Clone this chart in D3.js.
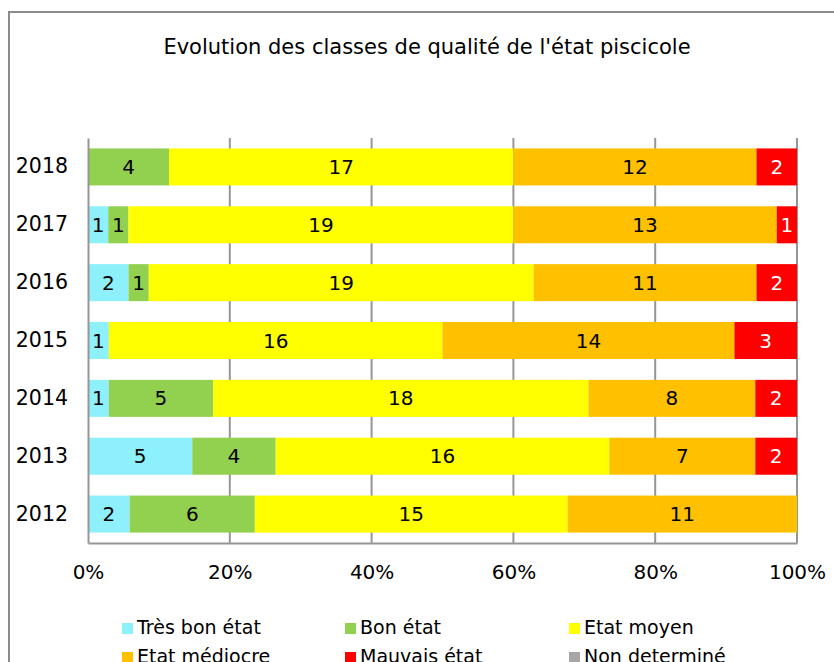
<!DOCTYPE html>
<html>
<head>
<meta charset="utf-8">
<script src="https://cdn.jsdelivr.net/npm/d3@7"></script>
<style>
  body { margin: 0; background: #fff; }
  text { font-family: "DejaVu Sans", Verdana, sans-serif; }
</style>
</head>
<body>
<script>
// années, de haut en bas
let years = ["2018", "2017", "2016", "2015", "2014", "2013", "2012"];
let classes = ["Très bon état", "Bon état", "Etat moyen", "Etat médiocre", "Mauvais état", "Non determiné"];
let colors = ["#8EF0FA", "#92D050", "#FFFF00", "#FFC000", "#FF0000", "#A6A6A6"];

let tresBon  = [0, 1, 2, 1, 1, 5, 2];
let bon      = [4, 1, 1, 0, 5, 4, 6];
let moyen    = [17, 19, 19, 16, 18, 16, 15];
let mediocre = [12, 13, 11, 14, 8, 7, 11];
let mauvais  = [2, 1, 2, 3, 2, 2, 0];
let nonDet   = [0, 0, 0, 0, 0, 0, 0];

let xTicks = [0, 0.2, 0.4, 0.6, 0.8, 1];

let series = [tresBon, bon, moyen, mediocre, mauvais, nonDet];

let rows = years.map(function (y, i) {
    let r = { year: y };
    classes.forEach(function (c, k) { r[c] = series[k][i]; });
    return r;
});

let stacked = d3.stack()
    .keys(classes)
    .offset(d3.stackOffsetExpand)(rows);

let width = 834, height = 662;
let plotLeft = 88, plotRight = 797, plotTop = 138, plotBottom = 543;

let xScale = d3.scaleLinear()
    .domain([0, 1])
    .range([plotLeft, plotRight]);

let yScale = d3.scaleBand()
    .domain(years)
    .range([plotTop, plotBottom])
    .paddingInner(0.36)
    .paddingOuter(0.18);

let svg = d3.select("body")
    .append("svg")
    .attr("width", width).attr("height", height);

// cadre
svg.append("rect")
    .attr("x", 9).attr("y", 12)
    .attr("width", 900).attr("height", 700)
    .attr("fill", "white")
    .attr("stroke", "#8c8c8c").attr("stroke-width", 2);

svg.append("text")
    .attr("x", 427).attr("y", 54)
    .attr("text-anchor", "middle")
    .attr("font-size", 21)
    .text("Evolution des classes de qualité de l'état piscicole");

// grille verticale
svg.append("g")
    .selectAll("line")
    .data(xTicks.slice(1))
    .enter()
    .append("line")
    .attr("x1", function (d) { return xScale(d); })
    .attr("x2", function (d) { return xScale(d); })
    .attr("y1", plotTop).attr("y2", plotBottom)
    .attr("stroke", "#969696").attr("stroke-width", 2);

let groups = svg.append("g")
    .selectAll("g")
    .data(stacked)
    .enter()
    .append("g")
    .attr("fill", function (d, i) { return colors[i]; });

groups.selectAll("rect")
    .data(function (d) { return d; })
    .enter()
    .append("rect")
    .attr("x", function (d) { return xScale(d[0]); })
    .attr("y", function (d) { return yScale(d.data.year); })
    .attr("width", function (d) { return xScale(d[1]) - xScale(d[0]); })
    .attr("height", yScale.bandwidth());

// étiquettes des valeurs
groups.each(function (s, i) {
    d3.select(this).selectAll("text")
        .data(s.filter(function (d) { return d.data[s.key] > 0; }))
        .enter()
        .append("text")
        .attr("x", function (d) { return (xScale(d[0]) + xScale(d[1])) / 2; })
        .attr("y", function (d) { return yScale(d.data.year) + yScale.bandwidth() / 2 + 7; })
        .attr("text-anchor", "middle")
        .attr("font-size", 20)
        .attr("fill", i == 4 ? "white" : "black")
        .text(function (d) { return d.data[s.key]; });
});

// axes
let xAxis = svg.append("g")
    .attr("transform", "translate(0," + plotBottom + ")")
    .call(d3.axisBottom(xScale).tickValues(xTicks).tickFormat(d3.format(".0%")).tickSize(0).tickPadding(22));
xAxis.select(".domain").attr("stroke", "#969696").attr("stroke-width", 2);
xAxis.selectAll("text").attr("font-size", 20).attr("fill", "black")
    .attr("font-family", "DejaVu Sans, Verdana, sans-serif");

let yAxis = svg.append("g")
    .attr("transform", "translate(" + plotLeft + ",0)")
    .call(d3.axisLeft(yScale).tickSize(0).tickPadding(20));
yAxis.select(".domain").attr("stroke", "#969696").attr("stroke-width", 2);
yAxis.selectAll("text").attr("font-size", 20.5).attr("fill", "black")
    .attr("font-family", "DejaVu Sans, Verdana, sans-serif");

// légende
let legX = [122, 345, 569];
let legend = svg.append("g")
    .selectAll("g")
    .data(classes)
    .enter()
    .append("g")
    .attr("transform", function (d, i) {
        return "translate(" + legX[i % 3] + "," + (623 + Math.floor(i / 3) * 29) + ")";
    });
legend.append("rect")
    .attr("width", 11).attr("height", 11)
    .attr("fill", function (d, i) { return colors[i]; });
legend.append("text")
    .attr("x", 15).attr("y", 11)
    .attr("font-size", 19)
    .text(function (d) { return d; });
</script>
</body>
</html>
